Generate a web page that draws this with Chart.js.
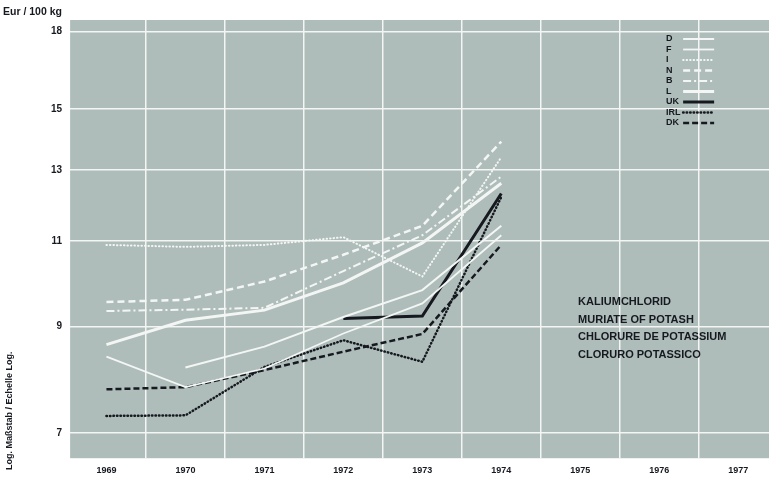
<!DOCTYPE html>
<html>
<head>
<meta charset="utf-8">
<script src="https://cdn.jsdelivr.net/npm/chart.js@4.4.0/dist/chart.umd.min.js"></script>
<style>
  html, body { margin: 0; padding: 0; background: #fff; }
  #wrap { width: 769px; height: 480px; }
</style>
</head>
<body>
<div id="wrap"><canvas id="potash"></canvas></div>
<script>
const years = [1969, 1970, 1971, 1972, 1973, 1974, 1975, 1976, 1977];
const yTicks = [7, 9, 11, 13, 15, 18];

// Eur / 100 kg
const dValues   = [null, 8.17, 8.58, 9.2, 9.8, 11.4];
const fValues   = [8.38, 7.8, 8.15, 8.85, 9.5, 11.15];
const iValues   = [10.9, 10.85, 10.9, 11.1, 10.12, 13.4];
const nValues   = [9.53, 9.58, 10.0, 10.65, 11.4, 13.9];
const bValues   = [9.33, 9.36, 9.4, 10.25, 11.15, 12.8];
const lValues   = [8.62, 9.13, 9.35, 9.97, 10.95, 12.6];
const ukValues  = [null, null, null, 9.17, 9.22, 12.3];
const irlValues = [7.29, 7.3, 8.18, 8.71, 8.28, 12.2];
const dkValues  = [7.76, 7.8, 8.12, 8.48, 8.84, 10.9];

const productNames = ['KALIUMCHLORID', 'MURIATE OF POTASH', 'CHLORURE DE POTASSIUM', 'CLORURO POTASSICO'];

const font = "'Liberation Sans', Arial, sans-serif";
const ink = '#16191f';
const chalk = '#f3f6f4';
const xMin = 1968.54;
const xMax = 1977.39;

function points(values) {
  return values.map((v, i) => ({ x: years[i], y: v }));
}

function series(label, values, color, width, dash, cap) {
  return {
    label: label,
    data: points(values),
    borderColor: color,
    borderWidth: width,
    borderDash: dash,
    borderCapStyle: cap || 'butt',
    pointRadius: 0,
    fill: false,
    tension: 0
  };
}

const paperBackground = {
  id: 'paperBackground',
  beforeDraw(chart) {
    const { ctx, chartArea: a } = chart;
    ctx.save();
    ctx.fillStyle = '#aebdb9';
    ctx.fillRect(a.left, a.top, a.right - a.left, a.bottom - a.top);
    ctx.restore();
  }
};

const notes = {
  id: 'notes',
  afterDraw(chart) {
    const { ctx, chartArea: a } = chart;
    ctx.save();
    ctx.fillStyle = ink;
    ctx.textBaseline = 'middle';

    ctx.font = "bold 10.5px " + font;
    ctx.textAlign = 'left';
    ctx.fillText('Eur / 100 kg', 3, 12);

    ctx.save();
    ctx.translate(10, 470);
    ctx.rotate(-Math.PI / 2);
    ctx.font = "bold 9px " + font;
    ctx.fillText('Log. Maßstab / Echelle Log.', 0, 0);
    ctx.restore();

    ctx.font = "bold 11px " + font;
    productNames.forEach((t, i) => {
      ctx.fillText(t, a.left + 508, 302 + i * 17.5);
    });

    // legend: label, then a sample of the line
    ctx.font = "bold 9px " + font;
    chart.data.datasets.forEach((ds, i) => {
      const y = a.top + 19 + i * 10.5;
      ctx.fillStyle = ink;
      ctx.fillText(ds.label, a.left + 596, y);
      ctx.beginPath();
      ctx.strokeStyle = ds.borderColor;
      ctx.lineWidth = ds.borderWidth;
      ctx.lineCap = ds.borderCapStyle;
      ctx.setLineDash(ds.borderDash);
      ctx.moveTo(a.left + 613, y);
      ctx.lineTo(a.left + 644, y);
      ctx.stroke();
    });
    ctx.restore();
  }
};

new Chart(document.getElementById('potash'), {
  type: 'line',
  data: {
    datasets: [
      series('D', dValues, chalk, 2, []),
      series('F', fValues, chalk, 1.8, []),
      series('I', iValues, chalk, 2, [0.5, 3], 'round'),
      series('N', nValues, chalk, 2.5, [7, 4]),
      series('B', bValues, chalk, 2, [8, 3, 2, 3]),
      series('L', lValues, chalk, 3, []),
      series('UK', ukValues, ink, 3, []),
      series('IRL', irlValues, ink, 2.5, [0.5, 3], 'round'),
      series('DK', dkValues, ink, 2.5, [6, 3])
    ]
  },
  options: {
    responsive: true,
    maintainAspectRatio: false,
    animation: false,
    layout: { padding: { left: 43, top: 20, right: 0, bottom: -3 } },
    plugins: {
      legend: { display: false },
      tooltip: { enabled: false }
    },
    scales: {
      x: {
        type: 'linear',
        min: xMin,
        max: xMax,
        afterBuildTicks: scale => { scale.ticks = years.map(v => ({ value: v })); },
        ticks: {
          callback: v => String(v),
          color: ink,
          font: { family: font, weight: 'bold', size: 9 },
          padding: 7,
          maxRotation: 0,
          autoSkip: false
        },
        grid: { display: false, drawTicks: false },
        border: { display: false }
      },
      xg: {
        type: 'linear',
        position: 'top',
        min: xMin,
        max: xMax,
        afterBuildTicks: scale => {
          scale.ticks = years.map(v => ({ value: v + 0.5 })).filter(t => t.value < xMax);
        },
        ticks: { display: false },
        grid: { color: chalk, lineWidth: 1.5, drawTicks: false },
        border: { display: false }
      },
      y: {
        type: 'logarithmic',
        min: 6.6,
        max: 18.5,
        afterBuildTicks: scale => { scale.ticks = yTicks.map(v => ({ value: v })); },
        ticks: {
          callback: v => String(v),
          color: ink,
          font: { family: font, weight: 'bold', size: 10 },
          padding: 8
        },
        grid: { color: chalk, lineWidth: 1.5, drawTicks: false },
        border: { display: false }
      }
    }
  },
  plugins: [paperBackground, notes]
});
</script>
</body>
</html>
